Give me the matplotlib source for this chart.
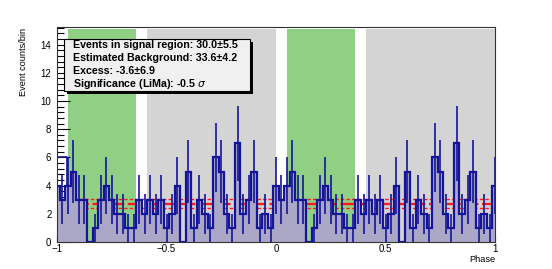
import numpy as np
import matplotlib
matplotlib.use('Agg')
import matplotlib.pyplot as plt
from matplotlib.patches import Rectangle
from matplotlib.ticker import MultipleLocator

# ---- data (one phase period, 40 bins centred on k*0.025) ----
counts = [4, 3, 4, 5, 3, 3, 0, 1, 3, 4, 3, 2, 2, 1, 1, 3, 2, 3, 2, 3,
          1, 2, 4, 0, 5, 1, 3, 2, 1, 6, 5, 2, 1, 7, 2, 3, 5, 1, 2, 1]
bin_width = 0.025
signal_ranges = [(-0.95, -0.64), (0.05, 0.36)]
background_ranges = [(-0.59, 0.0), (0.41, 1.0)]
bkg_level = 2.72
bkg_err = 0.34
box_lines = ["Events in signal region: 30.0\u00b15.5",
             "Estimated Background: 33.6\u00b14.2",
             "Excess: -3.6\u00b16.9",
             "Significance (LiMa): -0.5 $\\sigma$"]

W, H = 552, 269
fig = plt.figure(figsize=(W / 100, H / 100), dpi=100)
ax_l, ax_r, ax_t, ax_b = 57, 495, 27, 242
ax = fig.add_axes([ax_l / W, 1 - ax_b / H, (ax_r - ax_l) / W, (ax_b - ax_t) / H])

BLUE = '#14149a'
FILL = '#aaa8c6'
GREEN = '#90d084'
GREY = '#d4d4d4'
RED = '#ff1a1a'
shade_top = 15.1

for a, b in background_ranges:
    ax.add_patch(Rectangle((a, 0), b - a, shade_top, facecolor=GREY, edgecolor='none', zorder=0))
for a, b in signal_ranges:
    ax.add_patch(Rectangle((a, 0), b - a, shade_top, facecolor=GREEN, edgecolor='none', zorder=0))

# red background estimate lines (drawn behind the histogram fill)
ax.axhline(bkg_level, color=RED, lw=1.7, ls=(0, (6, 1.5)), zorder=1)
ax.axhline(bkg_level + bkg_err, color=RED, lw=1.0, ls=(0, (2.5, 1.5)), zorder=1)
ax.axhline(bkg_level - bkg_err, color=RED, lw=1.0, ls=(0, (2.5, 1.5)), zorder=1)

n = len(counts)
ks = np.arange(-n, n + 1)
centers = ks * bin_width
vals = np.array([counts[k % n] for k in ks], dtype=float)
edges = np.concatenate([centers - bin_width / 2, [centers[-1] + bin_width / 2]])

ax.stairs(vals, edges, fill=True, facecolor=FILL, edgecolor='none', zorder=2)
ax.stairs(vals, edges, color=BLUE, lw=1.6, zorder=3)
m = vals > 0
err = np.sqrt(vals[m])
ax.vlines(centers[m], vals[m] - err, vals[m] + err, color=BLUE, lw=1.2, zorder=3)
# extra outline at the first bins
ax.plot([-1, -0.955, -0.955], [6, 6, 4], color=BLUE, lw=1.2, zorder=3)

ax.set_xlim(-1, 1)
ax.set_ylim(0, 15.25)
ax.xaxis.set_minor_locator(MultipleLocator(0.1))
ax.yaxis.set_major_locator(MultipleLocator(2))
ax.yaxis.set_minor_locator(MultipleLocator(0.4))
ax.set_xticks([-1, -0.5, 0, 0.5, 1])
ax.set_xticklabels(['\u22121', '\u22120.5', '0', '0.5', '1'])
ax.tick_params(axis='y', which='major', direction='in', length=9.5, width=0.8, pad=4,
               labelsize=7, colors='black')
ax.tick_params(axis='y', which='minor', direction='in', length=4.8, width=0.8)
ax.tick_params(axis='x', which='major', direction='in', length=4.5, width=0.8, pad=1.5,
               labelsize=7)
ax.tick_params(axis='x', which='minor', direction='in', length=2.3, width=0.8)
for s in ax.spines.values():
    s.set_linewidth(0.8)
    s.set_color('#333333')
    s.set_zorder(5)
for lab in ax.get_xticklabels() + ax.get_yticklabels():
    lab.set_family('Liberation Sans')

fig.text(ax_r / W, 1 - 259.5 / H, 'Phase', ha='right', va='center', fontsize=6.6,
         family='Liberation Sans')
fig.text(23 / W, 1 - 28 / H, 'Event counts/bin', ha='center', va='top', rotation=90,
         fontsize=6.6, family='Liberation Sans')

# info box with shadow
bx0, bx1, by0, by1 = 64, 250, 39, 91
fig.patches.append(Rectangle(((bx0 + 2.5) / W, 1 - (by1 + 2.5) / H), (bx1 - bx0) / W, (by1 - by0) / H,
                             transform=fig.transFigure, facecolor='black', edgecolor='none', zorder=8))
fig.patches.append(Rectangle((bx0 / W, 1 - by1 / H), (bx1 - bx0) / W, (by1 - by0) / H,
                             transform=fig.transFigure, facecolor='#f0f0f0', edgecolor='black',
                             lw=0.8, zorder=9))
for i, t in enumerate(box_lines):
    fig.text(73 / W, 1 - (44.5 + 13.3 * i) / H, t, ha='left', va='center', fontsize=7.7,
             fontweight='bold', family='Liberation Sans', zorder=10)

fig.savefig('out.png', dpi=100)
